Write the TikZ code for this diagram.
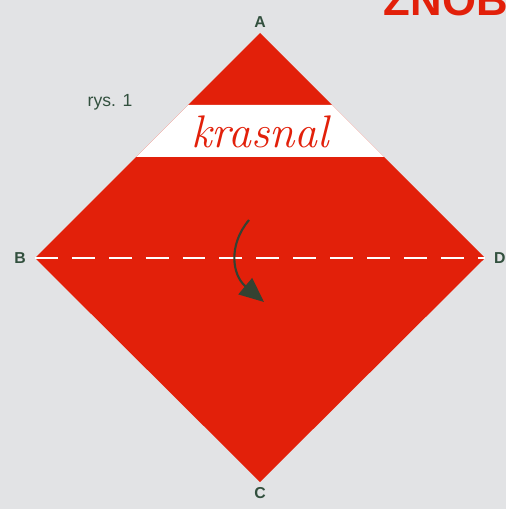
\documentclass[tikz,border=0pt]{standalone}
\usepackage{fontspec}
\setsansfont{Liberation Sans}
\usetikzlibrary{arrows.meta}
\begin{document}
\begin{tikzpicture}[x=0.02cm, y=-0.02cm]
\definecolor{sheetbg}{RGB}{226,227,229}
\definecolor{paperred}{RGB}{226,32,10}
\definecolor{labelgreen}{RGB}{50,80,62}
\definecolor{foldarrow}{RGB}{52,66,50}
\tikzset{
  corner/.style={font=\sffamily\bfseries\small, text=labelgreen, inner sep=1pt},
}
\useasboundingbox (0,0) rectangle (506,509);
\fill[sheetbg] (0,0) rectangle (506,509);
\begin{scope}
\clip (0,0) rectangle (506,509);
\node[font=\sffamily\bfseries\Huge, text=paperred, anchor=base east] (title) at (514,16) {ZNOB};
\end{scope}
% the square sheet
\coordinate (a) at (260,33);
\coordinate (b) at (35,258);
\coordinate (c) at (260,482);
\coordinate (d) at (485,258);
\fill[paperred] (a) -- (d) -- (c) -- (b) -- cycle;
\fill[white] (188,105) -- (332,105) -- (384,157) -- (136,157) -- cycle;
\node[font=\itshape\fontsize{26}{26}\selectfont, text=paperred] (name) at (260,132) {krasnal};
\draw[white, line width=1.6pt, dash pattern=on 13pt off 8pt] (b) -- (d);
\node[corner, above=2pt] (la) at (a) {A};
\node[corner, left=4pt] (lb) at (b) {B};
\node[corner, below=2pt] (lc) at (c) {C};
\node[corner, right=4pt] (ld) at (d) {D};
\node[font=\sffamily\normalsize, text=labelgreen] (rys) at (110,102) {rys. 1};
% fold arrow
\coordinate (fold1) at (249,220);
\coordinate (fold2) at (264,302);
\draw[foldarrow, line width=1.2pt, -{Triangle[length=14pt, width=12pt]}] (fold1) .. controls (228,245) and (232,275) .. (fold2);
\end{tikzpicture}
\end{document}
